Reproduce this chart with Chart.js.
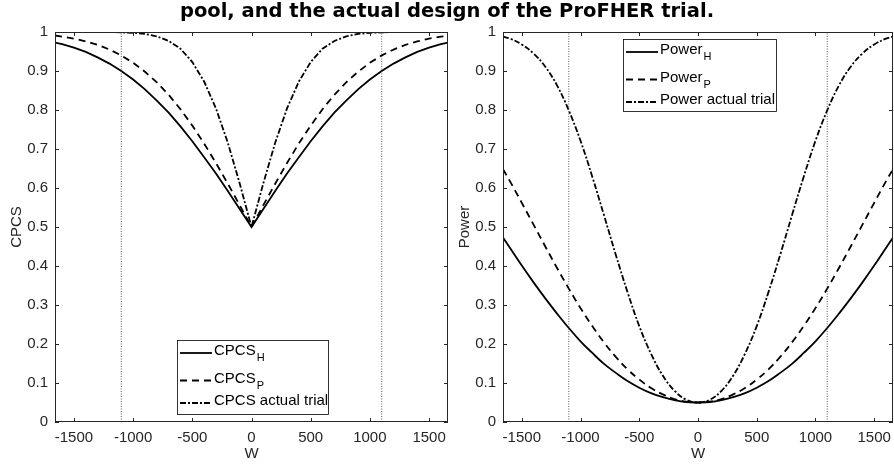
<!DOCTYPE html>
<html>
<head>
<meta charset="utf-8">
<script src="https://cdn.jsdelivr.net/npm/chart.js@4.4.0/dist/chart.umd.min.js"></script>
<style>
  body { margin: 0; background: #fff; }
  #wrap { position: relative; width: 894px; height: 464px; overflow: hidden; }
  #title { position: absolute; left: 0; top: 0; width: 894px; text-align: center;
           font: bold 19.5px "DejaVu Sans", sans-serif; color: #000; z-index: 2; line-height: 22px; }
  #c1 { position: absolute; left: 0; top: 0; }
  #c2 { position: absolute; left: 450px; top: 0; }
</style>
</head>
<body>
<div id="wrap">
  <div id="title">pool, and the actual design of the ProFHER trial.</div>
  <canvas id="c1" width="450" height="464"></canvas>
  <canvas id="c2" width="444" height="464"></canvas>
</div>
<script>
// W grid the curves were read at
var wValues = [-1660,-1600,-1500,-1400,-1300,-1200,-1100,-1000,-900,-800,-700,-600,-500,-400,-300,-200,-100,0,
               100,200,300,400,500,600,700,800,900,1000,1100,1200,1300,1400,1500,1600,1660];

// left panel
var cpcsH = [0.973,0.969,0.960,0.949,0.935,0.919,0.900,0.878,0.853,0.824,0.793,0.758,0.720,0.679,0.637,0.592,0.546,0.500,
             0.546,0.592,0.637,0.679,0.720,0.758,0.793,0.824,0.853,0.878,0.900,0.919,0.935,0.949,0.960,0.969,0.973];
var cpcsP = [0.991,0.988,0.983,0.976,0.967,0.955,0.940,0.921,0.898,0.871,0.839,0.802,0.760,0.714,0.664,0.611,0.556,0.500,
             0.556,0.611,0.664,0.714,0.760,0.802,0.839,0.871,0.898,0.921,0.940,0.955,0.967,0.976,0.983,0.988,0.991];
var cpcsActual = [1,1,1,1,1,1,0.999,0.998,0.995,0.989,0.977,0.957,0.923,0.873,0.804,0.716,0.612,0.500,
                  0.612,0.716,0.804,0.873,0.923,0.957,0.977,0.989,0.995,0.998,0.999,1,1,1,1,1,1];

// right panel
var powerH = [0.473,0.446,0.401,0.358,0.317,0.278,0.241,0.207,0.177,0.149,0.126,0.105,0.088,0.074,0.064,0.056,0.051,0.050,
              0.051,0.056,0.064,0.074,0.088,0.105,0.126,0.149,0.177,0.207,0.241,0.278,0.317,0.358,0.401,0.446,0.473];
var powerP = [0.648,0.617,0.562,0.506,0.450,0.395,0.342,0.292,0.246,0.204,0.167,0.135,0.109,0.087,0.071,0.059,0.052,0.050,
              0.052,0.059,0.071,0.087,0.109,0.135,0.167,0.204,0.246,0.292,0.342,0.395,0.450,0.506,0.562,0.617,0.648];
var powerActual = [0.988,0.983,0.968,0.945,0.911,0.863,0.799,0.721,0.629,0.530,0.429,0.333,0.246,0.175,0.119,0.080,0.057,0.050,
                   0.057,0.080,0.119,0.175,0.246,0.333,0.429,0.530,0.629,0.721,0.799,0.863,0.911,0.945,0.968,0.983,0.988];

var refLines = [-1100, 1100];
var xTicks = [-1500,-1000,-500,0,500,1000,1500];
var yTicks = [0,0.1,0.2,0.3,0.4,0.5,0.6,0.7,0.8,0.9,1];
var xMin = -1660, xMax = 1660;

var FONT = '"Liberation Sans", Arial, sans-serif';
var AX = '#262626';
var DASH = [7, 5];
var DASHDOT = [6, 2, 2, 2];

function pts(arr) {
  return wValues.map(function (w, i) { return {x: w, y: arr[i]}; });
}
function curve(arr, dash, width, tension) {
  return {data: pts(arr), borderColor: '#000', borderWidth: width, borderDash: dash,
          pointRadius: 0, tension: tension, fill: false};
}
function vline(w) {
  return {data: [{x: w, y: 0}, {x: w, y: 1}], borderColor: '#333', borderWidth: 0.8,
          borderDash: [1, 1.5], pointRadius: 0, fill: false};
}

// box round the axes, inward ticks on all sides, and a MATLAB-like legend
var boxPlugin = {
  id: 'boxPlugin',
  afterDatasetsDraw: function (chart) {
    var ctx = chart.ctx, a = chart.chartArea;
    var xs = chart.scales.x, ys = chart.scales.y;
    ctx.save();
    ctx.strokeStyle = AX;
    ctx.lineWidth = 1;
    ctx.setLineDash([]);
    ctx.strokeRect(a.left + 0.5, a.top + 0.5, a.right - a.left - 1, a.bottom - a.top - 1);
    ctx.beginPath();
    xTicks.forEach(function (v) {
      var px = Math.round(xs.getPixelForValue(v)) + 0.5;
      ctx.moveTo(px, a.bottom); ctx.lineTo(px, a.bottom - 4);
      ctx.moveTo(px, a.top); ctx.lineTo(px, a.top + 4);
    });
    yTicks.forEach(function (v) {
      var py = Math.round(ys.getPixelForValue(v)) + 0.5;
      ctx.moveTo(a.left, py); ctx.lineTo(a.left + 4, py);
      ctx.moveTo(a.right, py); ctx.lineTo(a.right - 4, py);
    });
    ctx.stroke();

    var lg = chart.options.plugins.boxLegend;
    if (lg) {
      var L = a.left + lg.dx, T = lg.fromBottom ? a.bottom - lg.dy - lg.h : a.top + lg.dy;
      ctx.fillStyle = '#fff';
      ctx.fillRect(L, T, lg.w, lg.h);
      ctx.strokeStyle = '#000';
      ctx.lineWidth = 0.8;
      ctx.strokeRect(L + 0.5, T + 0.5, lg.w, lg.h);
      var rows = [13, 40.5, 63];
      lg.items.forEach(function (it, i) {
        var cy = T + rows[i];
        ctx.beginPath();
        ctx.strokeStyle = '#000';
        ctx.lineWidth = it.width;
        ctx.setLineDash(it.dash);
        ctx.moveTo(L + 3, cy); ctx.lineTo(L + 35, cy);
        ctx.stroke();
        ctx.setLineDash([]);
        ctx.fillStyle = '#000';
        ctx.textBaseline = 'middle';
        ctx.font = '15px ' + FONT;
        ctx.fillText(it.text, L + 37, cy - 2);
        if (it.sub) {
          var tw = ctx.measureText(it.text).width;
          ctx.font = '11px ' + FONT;
          ctx.fillText(it.sub, L + 37 + tw + 1, cy + 5);
        }
      });
    }
    ctx.restore();
  }
};

function makeChart(id, datasets, yTitle, yWidth, yTitlePad, rightPad, legend) {
  return new Chart(document.getElementById(id), {
    type: 'line',
    data: {datasets: datasets},
    plugins: [boxPlugin],
    options: {
      responsive: false,
      animation: false,
      layout: {padding: {top: 32, right: rightPad, left: 0, bottom: 0}},
      plugins: {legend: {display: false}, tooltip: {enabled: false}, boxLegend: legend},
      scales: {
        x: {
          type: 'linear', min: xMin, max: xMax,
          afterBuildTicks: function (s) { s.ticks = xTicks.map(function (v) { return {value: v}; }); },
          afterFit: function (s) { s.height = 42; s.paddingLeft = 0; s.paddingRight = 0; },
          grid: {display: false, drawTicks: false},
          border: {display: false},
          ticks: {padding: 7, color: AX, font: {family: FONT, size: 15},
                  callback: function (v) { return String(v); }, maxRotation: 0, autoSkip: false},
          title: {display: true, text: 'W', color: AX, font: {family: FONT, size: 15}, padding: {top: 0, bottom: 1}}
        },
        y: {
          min: 0, max: 1,
          afterBuildTicks: function (s) { s.ticks = yTicks.map(function (v) { return {value: v}; }); },
          afterFit: function (s) { s.width = yWidth; s.paddingTop = 0; s.paddingBottom = 0; },
          grid: {display: false, drawTicks: false},
          border: {display: false},
          ticks: {padding: 7, color: AX, font: {family: FONT, size: 15},
                  callback: function (v) { return String(v); }, autoSkip: false},
          title: {display: true, text: yTitle, color: AX, font: {family: FONT, size: 15}, padding: {top: yTitlePad, bottom: 0}}
        }
      }
    }
  });
}

makeChart('c1', [
  vline(refLines[0]), vline(refLines[1]),
  curve(cpcsH, [], 1.8, 0),
  curve(cpcsP, DASH, 1.8, 0),
  curve(cpcsActual, DASHDOT, 1.8, 0)
], 'CPCS', 55, 8, 2, {
  dx: 122, dy: 8, w: 151, h: 74, fromBottom: true,
  items: [
    {text: 'CPCS', sub: 'H', dash: [], width: 1.8},
    {text: 'CPCS', sub: 'P', dash: DASH, width: 1.8},
    {text: 'CPCS actual trial', sub: '', dash: DASHDOT, width: 1.8}
  ]
});

makeChart('c2', [
  vline(refLines[0]), vline(refLines[1]),
  curve(powerH, [], 1.8, 0.4),
  curve(powerP, DASH, 1.8, 0.4),
  curve(powerActual, DASHDOT, 1.8, 0.4)
], 'Power', 53, 6, 1, {
  dx: 120, dy: 7, w: 153, h: 72, fromBottom: false,
  items: [
    {text: 'Power', sub: 'H', dash: [], width: 1.8},
    {text: 'Power', sub: 'P', dash: DASH, width: 1.8},
    {text: 'Power actual trial', sub: '', dash: DASHDOT, width: 1.8}
  ]
});
</script>
</body>
</html>
